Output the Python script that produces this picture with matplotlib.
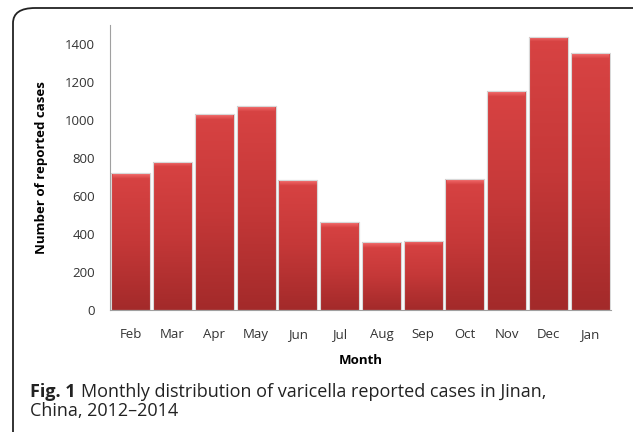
import matplotlib.pyplot as plt
import numpy as np
from matplotlib.patches import FancyBboxPatch
from matplotlib.colors import LinearSegmentedColormap

plt.rcParams['font.family'] = ['Open Sans', 'DejaVu Sans']

months = ['Feb', 'Mar', 'Apr', 'May', 'Jun', 'Jul', 'Aug', 'Sep', 'Oct', 'Nov', 'Dec', 'Jan']
cases = [719, 780, 1030, 1074, 684, 461, 356, 365, 689, 1153, 1438, 1351]
yticks = [0, 200, 400, 600, 800, 1000, 1200, 1400]

fig = plt.figure(figsize=(6.33, 4.32), dpi=100)

# rounded frame around figure + caption
frame = FancyBboxPatch((13 / 633, -0.05), 1.2, 1 - 8 / 432 + 0.05,
                       boxstyle="round,pad=0,rounding_size=0.035",
                       transform=fig.transFigure, facecolor='none',
                       edgecolor='#222222', linewidth=1.3, clip_on=False, zorder=-1)
fig.patches.append(frame)

ax = fig.add_axes([110 / 633, 1 - 310 / 432, 501 / 633, 285 / 432])
ax.set_facecolor('none')

x = np.arange(len(months))
bars = ax.bar(x, cases, width=0.93, color='#c93535', edgecolor='#d8d8d8', linewidth=0.8, zorder=2)

# vertical gradient inside each bar
cmap = LinearSegmentedColormap.from_list('redgrad', ['#a32a2a', '#c53838', '#d84343'])
top_cmap = LinearSegmentedColormap.from_list('bevel', ['#d43f3f', '#f06868'])
grad = np.linspace(0, 1, 256).reshape(-1, 1)
for b in bars:
    bx, by = b.get_x(), b.get_y()
    bw, bh = b.get_width(), b.get_height()
    im = ax.imshow(grad, cmap=cmap, origin='lower', aspect='auto',
                   extent=[bx, bx + bw, by, by + bh], zorder=2.5)
    im.set_clip_path(b)
    # bevel highlight on top
    im2 = ax.imshow(grad, cmap=top_cmap, origin='lower', aspect='auto',
                    extent=[bx + 0.03, bx + bw - 0.03, by + bh - 30, by + bh - 4], zorder=2.6)
    im2.set_clip_path(b)
    ax.bar(bx + bw / 2, bh, width=bw, fill=False, edgecolor='#d8d8d8', linewidth=0.8, zorder=3)

ax.set_xlim(-0.5, len(months) - 0.5)
ax.set_ylim(0, 1500)
ax.set_yticks(yticks)
ax.set_xticks(x)
ax.set_xticklabels(months, fontsize=9.5, color='#333333')
ax.set_yticklabels([str(v) for v in yticks], fontsize=9.5, color='#333333')
ax.tick_params(axis='x', length=0, pad=13)
ax.tick_params(axis='y', length=0, pad=11)

for s in ['top', 'right']:
    ax.spines[s].set_visible(False)
ax.spines['left'].set_color('#a0a0a0')
ax.spines['bottom'].set_color('#a0a0a0')

ax.set_xlabel('Month', fontsize=9.5, fontweight='bold', labelpad=9)
ax.set_ylabel('Number of reported cases', fontsize=9.5, fontweight='bold', labelpad=12)

# caption
t1 = fig.text(30 / 633, 1 - 392 / 432, 'Fig. 1', fontsize=13, fontweight='bold',
              va='center', color='#222222')
fig.canvas.draw()
ext = t1.get_window_extent()
x_after = (ext.x1 + 5) / fig.bbox.width
fig.text(x_after, 1 - 392 / 432, 'Monthly distribution of varicella reported cases in Jinan,',
         fontsize=13, va='center', color='#222222')
fig.text(30 / 633, 1 - 411 / 432, 'China, 2012\u20132014', fontsize=13, va='center', color='#222222')

plt.savefig('out.png', dpi=100)
